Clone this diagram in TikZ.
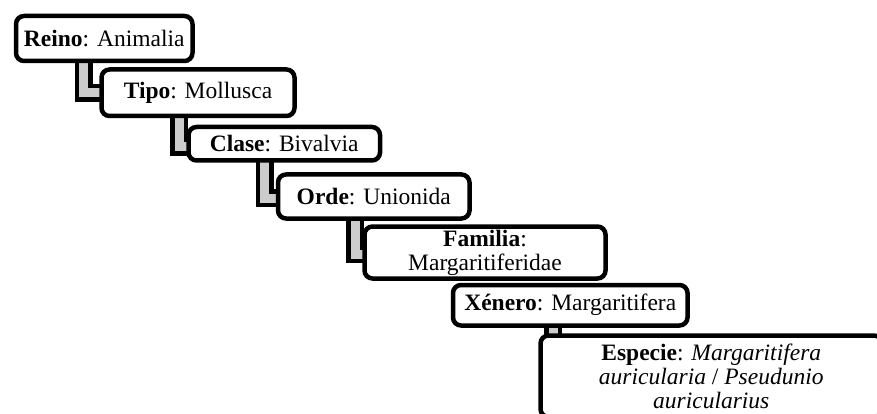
\documentclass[tikz,border=0pt]{standalone}
\usepackage{fontspec}
\setmainfont{Liberation Serif}
\usetikzlibrary{backgrounds,calc}
\begin{document}
\begin{tikzpicture}[x=1pt,y=-1pt,
  taxbox/.style={draw=black, fill=white, line width=4.5pt, rounded corners=8pt,
    inner sep=0pt, outer sep=0pt, align=center,
    font=\fontsize{23.5}{24}\selectfont},
  elbow/.style={draw=black, line width=4.5pt, double=gray!40, double distance=9pt}
]
\useasboundingbox (0,0) rectangle (877,414);
\clip (0,0) rectangle (877,414);
\node[taxbox, minimum width=176.5pt, minimum height=45pt] (R) at (104.25,38.5) {\textbf{Reino}: Animalia};
\node[taxbox, minimum width=193pt, minimum height=46.5pt] (T) at (198,92.75) {\textbf{Tipo}: Mollusca};
\node[taxbox, minimum width=191.5pt, minimum height=33.5pt] (C) at (284.25,143.75) {\textbf{Clase}: Bivalvia};
\node[taxbox, minimum width=191.5pt, minimum height=44pt] (O) at (373.75,196.5) {\textbf{Orde}: Unionida};
\node[taxbox, minimum width=241pt, minimum height=52pt] (F) at (485,252.5) {\textbf{Familia}:\\Margaritiferidae};
\node[taxbox, minimum width=234.5pt, minimum height=40.5pt] (X) at (570.25,305.25) {\textbf{Xénero}: Margaritifera};
\node[taxbox, minimum width=341.5pt, minimum height=81.5pt] (E) at (711.25,376.25) {\textbf{Especie}: \textit{Margaritifera}\\\textit{auricularia} / \textit{Pseudunio}\\\textit{auricularius}};
\begin{scope}[on background layer]
\draw[elbow] (R.south west -| 83.5,0) |- (T.west);
\draw[elbow] (T.south west -| 179,0) |- ($(C.west)+(0,3)$);
\draw[elbow] (C.south west -| 264.5,0) |- ($(O.west)+(0,1.5)$);
\draw[elbow] (O.south west -| 355,0) |- ($(F.west)+(0,1.5)$);
\draw[elbow] (X.south west -| 553,0) |- (E.west);
\end{scope}
\end{tikzpicture}
\end{document}
